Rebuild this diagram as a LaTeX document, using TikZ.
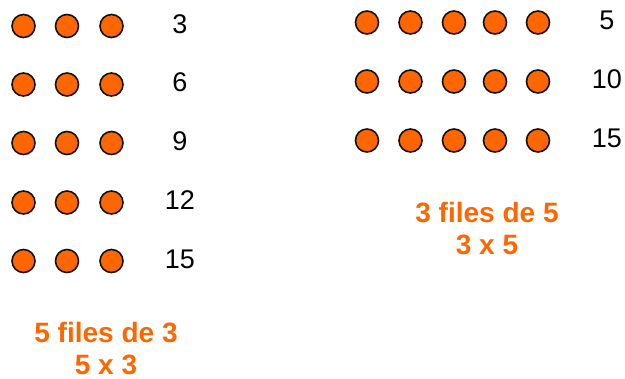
\documentclass[tikz,border=0pt]{standalone}
\usepackage{fontspec}
\setmainfont{Liberation Sans}
\usepackage{xcolor}
\usepackage{tikz}
\definecolor{DotOrange}{HTML}{FF6600}
\definecolor{DotEdge}  {HTML}{111111}

\begin{document}
\begin{tikzpicture}[x=1pt,y=-1pt,
    dot/.style={circle,draw=DotEdge,fill=DotOrange,line width=1.6pt,minimum size=23pt,inner sep=0pt},
    count/.style={font=\fontsize{27}{30}\selectfont,text=black},
    caption/.style={font=\fontsize{28}{32.5}\selectfont\bfseries,text=DotOrange,align=center,anchor=base}]
    \useasboundingbox (0,0) rectangle (625,379);
    % Left: 5 files de 3
    \foreach \r/\y/\n in {1/26/3,2/84.5/6,3/143/9,4/202.5/12,5/261/15}{
      \foreach \c/\x in {1/23.5,2/67,3/111.5}
        \node[dot] (L\r\c) at (\x,\y) {};
      \node[count] (Lcount\r) at (180,\y-2) {\n};
    }
    \node[caption] (Lcap) at (106,375) {5 files de 3\\5 x 3};
    % Right: 3 files de 5
    \foreach \r/\y/\n in {1/22.5/5,2/81.5/10,3/140.5/15}{
      \foreach \c/\x in {1/367,2/410.5,3/454,4/495,5/538}
        \node[dot] (R\r\c) at (\x,\y) {};
      \node[count] (Rcount\r) at (607,\y-2) {\n};
    }
    \node[caption] (Rcap) at (487,255) {3 files de 5\\3 x 5};
  \end{tikzpicture}
\end{document}
